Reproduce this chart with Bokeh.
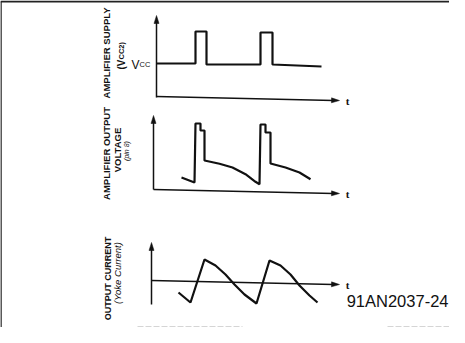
import math
from bokeh.plotting import figure
from bokeh.models import Range1d, Label
from bokeh.embed import file_html
from bokeh.resources import INLINE

# ---- waveform data (time units, amplitude above each panel's time axis) ----
# Panel 1: amplifier supply (Vcc2)
supply_t = [3, 42, 42, 53, 53, 107, 107, 119, 119, 168]
supply_v = [35, 35, 67, 67, 34, 34, 66, 66, 34, 32]

# Panel 2: amplifier output voltage (pin 8)
outv_t = [28, 41, 42, 47, 47, 51, 51, 66, 79, 92, 102, 106,
          107, 112, 112, 117, 117, 132, 146, 157]
outv_v = [14, 9, 68, 68, 61, 61, 31, 27.7, 24, 17.3, 9.7, 7.3,
          67, 67, 59, 59, 28, 24, 19, 12.3]

# Panel 3: output current (yoke current)
outi_t = [25, 37, 51, 62, 72, 81, 91, 99, 103, 116, 127, 137, 146, 156, 164]
outi_v = [-10, -20, 23, 17, 8, -2, -12, -18, -21, 22, 17, 8, -3, -13, -20]

panel_titles = ["AMPLIFIER SUPPLY", "AMPLIFIER OUTPUT", "OUTPUT CURRENT"]
panel_subs = ["VOLTAGE", "(Yoke Current)"]
supply_sub = ["(V", "CC2)"]
pin_note = "(pin 8)"
vcc_label = ["V", "CC"]
figure_id = "91AN2037-24"

# ---- layout (positions) ----
W, H = 449, 327
offsets = [229, 136, 45]          # vertical position of each panel's time axis
axis_origin = [3, 0, -2]
axis_end = 186
vaxis_top = [83, 76, 40]
vaxis_bottom = [1, 2, -22]
INK = "#111111"
FONT = "Liberation Sans"

p = figure(width=W, height=H, output_backend="svg", toolbar_location=None,
           x_range=Range1d(-153, 296), y_range=Range1d(0, 327),
           min_border=0, background_fill_color="white",
           border_fill_color="white")
p.axis.visible = False
p.grid.visible = False
p.outline_line_color = None


def arrow_head(xt, yt, dx, dy, L=8, Wd=5):
    n = math.hypot(dx, dy)
    dx, dy = dx / n, dy / n
    nx, ny = -dy, dx
    bx, by = xt - L * dx, yt - L * dy
    return ([xt, bx + nx * Wd / 2, bx - nx * Wd / 2],
            [yt, by + ny * Wd / 2, by - ny * Wd / 2])


hx, hy = [], []
for i, off in enumerate(offsets):
    o = axis_origin[i]
    # vertical axis
    p.line([o, o], [off + vaxis_bottom[i], off + vaxis_top[i] - 6],
           line_color=INK, line_width=1.5)
    ax, ay = arrow_head(o, off + vaxis_top[i], 0, 1)
    hx.append(ax); hy.append(ay)
    # time axis (slightly skewed as in the scan)
    y0, y1 = off + 2, off - 2
    p.line([o, axis_end - 6], [y0, y1 + 0.1], line_color=INK, line_width=1.5)
    ax, ay = arrow_head(axis_end, y1, axis_end - o, y1 - y0)
    hx.append(ax); hy.append(ay)
    p.add_layout(Label(x=axis_end + 8, y=y1, text="t", text_font="Liberation Serif",
                       text_font_style="bold", text_font_size="11px",
                       text_align="center", text_baseline="middle", text_color=INK))
p.patches(hx, hy, fill_color=INK, line_color=INK, line_width=0.5)

# waveforms
p.line(supply_t, [v + offsets[0] for v in supply_v], line_color=INK, line_width=2.2)
p.line(outv_t, [v + offsets[1] for v in outv_v], line_color=INK, line_width=2.2)
p.line(outi_t, [v + offsets[2] for v in outi_v], line_color=INK, line_width=2.2)

# Vcc label
p.add_layout(Label(x=-22, y=263, text=vcc_label[0], text_font=FONT,
                   text_font_size="12px", text_baseline="alphabetic", text_color=INK))
p.add_layout(Label(x=-14, y=263, text=vcc_label[1], text_font=FONT,
                   text_font_size="7.5px", text_baseline="alphabetic", text_color=INK))

rot = math.pi / 2
def vlabel(x, y, text, size, style="bold", baseline="middle", align="center"):
    p.add_layout(Label(x=x, y=y, text=text, angle=rot, text_font=FONT,
                       text_font_size=size, text_font_style=style,
                       text_align=align, text_baseline=baseline, text_color=INK))

# panel 1 titles
vlabel(-47, 274.5, panel_titles[0], "9.5px")
vlabel(-32, 258, supply_sub[0], "10px", "bold", "alphabetic", "left")
vlabel(-32, 268, supply_sub[1], "7.5px", "bold", "alphabetic", "left")
# panel 2 titles
vlabel(-47.5, 174, panel_titles[1], "9.5px")
vlabel(-36, 177.5, panel_subs[0], "9.5px")
vlabel(-27, 176.5, pin_note, "7px", "italic")
# panel 3 titles
vlabel(-46, 49, panel_titles[2], "9px")
vlabel(-36, 54.5, panel_subs[1], "9.5px", "italic")

# figure id
p.add_layout(Label(x=295, y=27, text=figure_id, text_font=FONT,
                   text_font_size="16.5px", text_align="right", text_baseline="middle",
                   text_color=INK))

# frame lines
p.line([-152.5, -152.5], [0, 326], line_color="#222222", line_width=1.5)
p.line([-153, 296], [326, 326], line_color="#222222", line_width=2)
p.line([-16, 89], [0.5, 0.5], line_color="#aaaaaa", line_width=1, line_dash="6 2")
p.line([234, 296], [0.5, 0.5], line_color="#aaaaaa", line_width=1, line_dash="6 2")

open("out.html", "w").write(file_html(p, INLINE))
